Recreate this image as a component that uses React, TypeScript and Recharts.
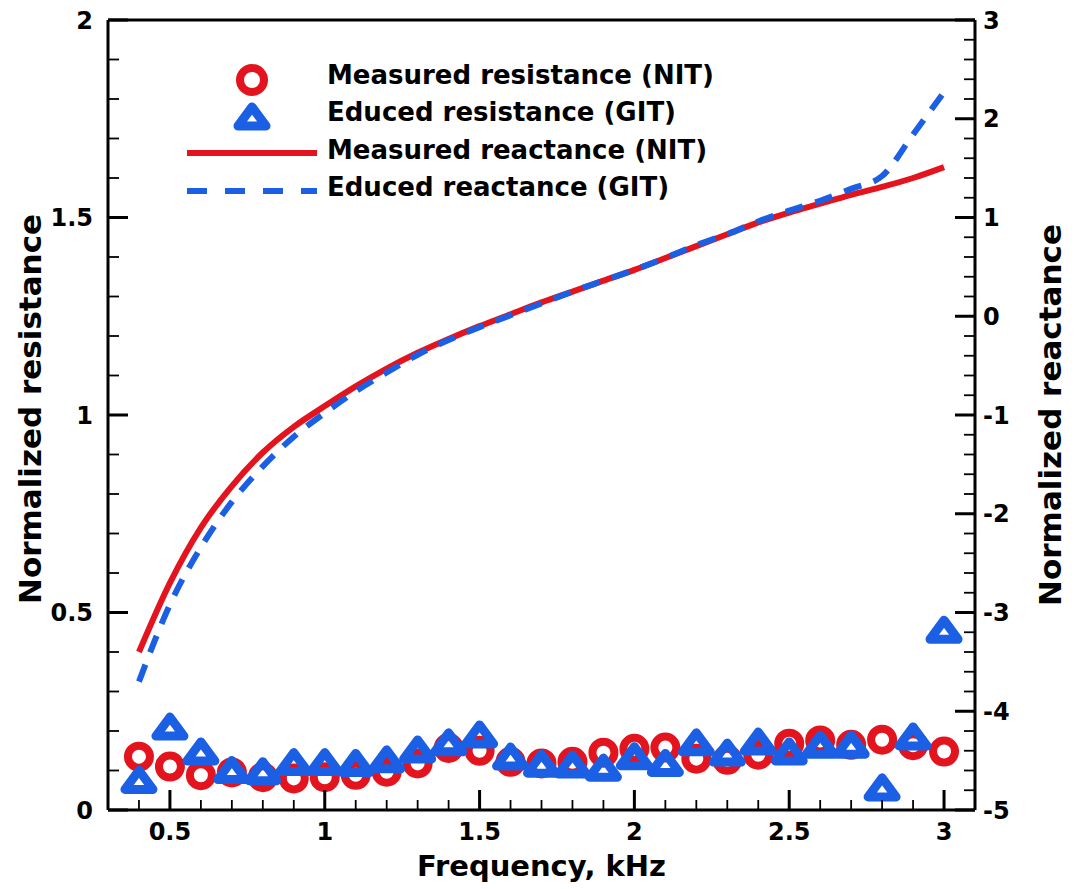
import React from 'react';
import { ComposedChart, Line, Scatter, XAxis, YAxis, ReferenceLine, Legend } from 'recharts';

const frequency = [0.4, 0.5, 0.6, 0.7, 0.8, 0.9, 1.0, 1.1, 1.2, 1.3, 1.4, 1.5, 1.6, 1.7, 1.8, 1.9, 2.0, 2.1, 2.2, 2.3, 2.4, 2.5, 2.6, 2.7, 2.8, 2.9, 3.0];
const measuredResistance = [0.135, 0.11, 0.088, 0.095, 0.083, 0.08, 0.083, 0.089, 0.097, 0.118, 0.157, 0.15, 0.122, 0.118, 0.122, 0.145, 0.155, 0.158, 0.13, 0.127, 0.14, 0.168, 0.176, 0.165, 0.178, 0.164, 0.148];
const educedResistance = [0.075, 0.21, 0.147, 0.1, 0.097, 0.12, 0.12, 0.118, 0.127, 0.152, 0.17, 0.19, 0.134, 0.116, 0.114, 0.106, 0.135, 0.118, 0.17, 0.144, 0.172, 0.147, 0.164, 0.164, 0.056, 0.185, 0.455];
const measuredReactance = [-3.4, -2.7, -2.14, -1.72, -1.38, -1.12, -0.91, -0.71, -0.53, -0.37, -0.23, -0.1, 0.02, 0.14, 0.25, 0.36, 0.47, 0.59, 0.71, 0.83, 0.95, 1.05, 1.14, 1.23, 1.31, 1.4, 1.51];
const educedReactance = [-3.7, -2.92, -2.34, -1.88, -1.52, -1.22, -0.98, -0.76, -0.57, -0.39, -0.24, -0.11, 0.01, 0.13, 0.25, 0.36, 0.47, 0.59, 0.72, 0.83, 0.96, 1.07, 1.17, 1.29, 1.42, 1.84, 2.27];

const xMajorTicks = [0.5, 1, 1.5, 2, 2.5, 3];
const xMinorTicks = [0.4, 0.6, 0.7, 0.8, 0.9, 1.1, 1.2, 1.3, 1.4, 1.6, 1.7, 1.8, 1.9, 2.1, 2.2, 2.3, 2.4, 2.6, 2.7, 2.8, 2.9];
const leftMajorTicks = [0, 0.5, 1, 1.5, 2];
const leftMinorTicks = [0.1, 0.2, 0.3, 0.4, 0.6, 0.7, 0.8, 0.9, 1.1, 1.2, 1.3, 1.4, 1.6, 1.7, 1.8, 1.9];
const rightMajorTicks = [-5, -4, -3, -2, -1, 0, 1, 2, 3];
const rightMinorTicks = [-4.8, -4.6, -4.4, -4.2, -3.8, -3.6, -3.4, -3.2, -2.8, -2.6, -2.4, -2.2, -1.8, -1.6, -1.4, -1.2, -0.8, -0.6, -0.4, -0.2, 0.2, 0.4, 0.6, 0.8, 1.2, 1.4, 1.6, 1.8, 2.2, 2.4, 2.6, 2.8];

const seriesNames = ['Measured resistance (NIT)', 'Educed resistance (GIT)', 'Measured reactance (NIT)', 'Educed reactance (GIT)'];
const xTitle = 'Frequency, kHz';
const leftTitle = 'Normalized resistance';
const rightTitle = 'Normalized reactance';

const data = frequency.map((f, i) => ({
  f,
  rm: measuredResistance[i],
  re: educedResistance[i],
  xm: measuredReactance[i],
  xe: educedReactance[i],
}));

const RED = '#e3141e';
const BLUE = '#1a5fe4';
const FONT = "'DejaVu Sans', 'Liberation Sans', sans-serif";
const DASH = '18 13';

const CircleMark = (props: any) => {
  const { cx, cy } = props;
  if (cx == null || cy == null) return <g />;
  return <circle cx={cx} cy={cy} r={11} fill="none" stroke={RED} strokeWidth={8} />;
};

const triPath = (cx: number, cy: number) => `M ${cx} ${cy - 10} L ${cx + 14} ${cy + 9} L ${cx - 14} ${cy + 9} Z`;

const TriangleMark = (props: any) => {
  const { cx, cy } = props;
  if (cx == null || cy == null) return <g />;
  return <path d={triPath(cx, cy)} fill="none" stroke={BLUE} strokeWidth={9} strokeLinejoin="round" />;
};

const textProps = { fontFamily: FONT, fontWeight: 'bold' as const, fill: '#000' };

const XTick = (props: any) => {
  const { x, y, payload } = props;
  const v = payload.value;
  const major = xMajorTicks.includes(v);
  return (
    <g>
      <line x1={x} y1={y} x2={x} y2={y - (major ? 20 : 10)} stroke="#000" strokeWidth={major ? 3 : 1.8} />
      {major && (
        <text x={x} y={y + 30} textAnchor="middle" fontSize={24} {...textProps}>{String(v)}</text>
      )}
    </g>
  );
};

const LeftTick = (props: any) => {
  const { x, y, payload } = props;
  const v = payload.value;
  const major = leftMajorTicks.includes(v);
  return (
    <g>
      <line x1={x} y1={y} x2={x + (major ? 20 : 11)} y2={y} stroke="#000" strokeWidth={major ? 3 : 1.8} />
      {major && (
        <text x={x - 15} y={y} dy="0.36em" textAnchor="end" fontSize={24} {...textProps}>{String(v)}</text>
      )}
    </g>
  );
};

const RightTick = (props: any) => {
  const { x, y, payload } = props;
  const v = payload.value;
  const major = rightMajorTicks.includes(v);
  return (
    <g>
      <line x1={x} y1={y} x2={x - (major ? 20 : 11)} y2={y} stroke="#000" strokeWidth={major ? 3 : 1.8} />
      {major && (
        <text x={x + 8} y={y} dy="0.36em" textAnchor="start" fontSize={24} {...textProps}>{String(v)}</text>
      )}
    </g>
  );
};

const LeftTitle = (props: any) => {
  const vb = props.viewBox || { x: 0, y: 12, width: 100, height: 790 };
  const cx = vb.x + 22;
  const cy = vb.y + vb.height / 2 - 6;
  return (
    <text x={cx} y={cy} dy="0.36em" transform={`rotate(-90 ${cx} ${cy})`} textAnchor="middle" fontSize={31} {...textProps}>{leftTitle}</text>
  );
};

const RightTitle = (props: any) => {
  const vb = props.viewBox || { x: 967, y: 12, width: 94, height: 790 };
  const cx = vb.x + 75;
  const cy = vb.y + vb.height / 2;
  return (
    <text x={cx} y={cy} dy="0.36em" transform={`rotate(-90 ${cx} ${cy})`} textAnchor="middle" fontSize={31} {...textProps}>{rightTitle}</text>
  );
};

const BottomTitle = (props: any) => {
  const vb = props.viewBox || { x: 100, y: 802, width: 867, height: 71 };
  const cx = vb.x + vb.width / 2;
  return (
    <text x={cx} y={vb.y + 66} textAnchor="middle" fontSize={29} {...textProps}>{xTitle}</text>
  );
};

const LegendSymbol = ({ index }: { index: number }) => {
  const cx = 82;
  if (index === 0) return <circle cx={cx} cy={30} r={12} fill="none" stroke={RED} strokeWidth={8} />;
  if (index === 1) return <path d={triPath(cx, 67)} fill="none" stroke={BLUE} strokeWidth={9} strokeLinejoin="round" />;
  if (index === 2) return <line x1={17} x2={147} y1={103} y2={103} stroke={RED} strokeWidth={6} />;
  return <line x1={17} x2={147} y1={141} y2={141} stroke={BLUE} strokeWidth={6} strokeDasharray="20 18" />;
};

const rowCenters = [25, 62, 100, 137];

const LegendContent = (props: any) => {
  const payload: any[] = props.payload || [];
  const names = seriesNames.filter((n) => payload.length === 0 || payload.some((p) => p.value === n));
  return (
    <svg width={600} height={165} style={{ display: 'block', overflow: 'visible' }}>
      {names.map((name) => {
        const i = seriesNames.indexOf(name);
        return (
          <g key={name}>
            <LegendSymbol index={i} />
            <text x={157} y={rowCenters[i]} dy="0.36em" fontSize={26} {...textProps}>{name}</text>
          </g>
        );
      })}
    </svg>
  );
};

export default function App() {
  return (
    <div style={{ width: 1061, height: 880, background: '#fff' }}>
      <ComposedChart width={1061} height={880} data={data} margin={{ top: 12, right: 0, bottom: 7, left: 0 }}>
        <XAxis
          xAxisId="x"
          dataKey="f"
          type="number"
          domain={[0.3, 3.1]}
          ticks={[...xMinorTicks, ...xMajorTicks]}
          interval={0}
          height={71}
          tickLine={false}
          tickSize={0}
          tickMargin={0}
          axisLine={{ stroke: '#000', strokeWidth: 3 }}
          tick={XTick}
          allowDataOverflow
          label={{ content: BottomTitle }}
        />
        <YAxis
          yAxisId="left"
          orientation="left"
          type="number"
          domain={[0, 2]}
          ticks={[...leftMinorTicks, ...leftMajorTicks]}
          interval={0}
          width={100}
          tickLine={false}
          tickSize={0}
          tickMargin={0}
          axisLine={{ stroke: '#000', strokeWidth: 3 }}
          tick={LeftTick}
          allowDataOverflow
          label={{ content: LeftTitle }}
        />
        <YAxis
          yAxisId="right"
          orientation="right"
          type="number"
          domain={[-5, 3]}
          ticks={[...rightMinorTicks, ...rightMajorTicks]}
          interval={0}
          width={94}
          tickLine={false}
          tickSize={0}
          tickMargin={0}
          axisLine={{ stroke: '#000', strokeWidth: 3 }}
          tick={RightTick}
          allowDataOverflow
          label={{ content: RightTitle }}
        />
        <ReferenceLine xAxisId="x" yAxisId="left" y={2} stroke="#000" strokeWidth={3} />
        <Legend
          layout="vertical"
          align="center"
          verticalAlign="middle"
          content={LegendContent}
          wrapperStyle={{ left: 162, top: 42, width: 600, height: 165 }}
        />
        <Line
          xAxisId="x"
          yAxisId="right"
          name={seriesNames[2]}
          dataKey="xm"
          type="monotone"
          stroke={RED}
          strokeWidth={6}
          dot={false}
          activeDot={false}
          isAnimationActive={false}
        />
        <Line
          xAxisId="x"
          yAxisId="right"
          name={seriesNames[3]}
          dataKey="xe"
          type="monotone"
          stroke={BLUE}
          strokeWidth={6}
          strokeDasharray={DASH}
          dot={false}
          activeDot={false}
          isAnimationActive={false}
        />
        <Scatter
          xAxisId="x"
          yAxisId="left"
          name={seriesNames[0]}
          dataKey="rm"
          fill={RED}
          shape={CircleMark}
          isAnimationActive={false}
        />
        <Scatter
          xAxisId="x"
          yAxisId="left"
          name={seriesNames[1]}
          dataKey="re"
          fill={BLUE}
          shape={TriangleMark}
          isAnimationActive={false}
        />
      </ComposedChart>
    </div>
  );
}
